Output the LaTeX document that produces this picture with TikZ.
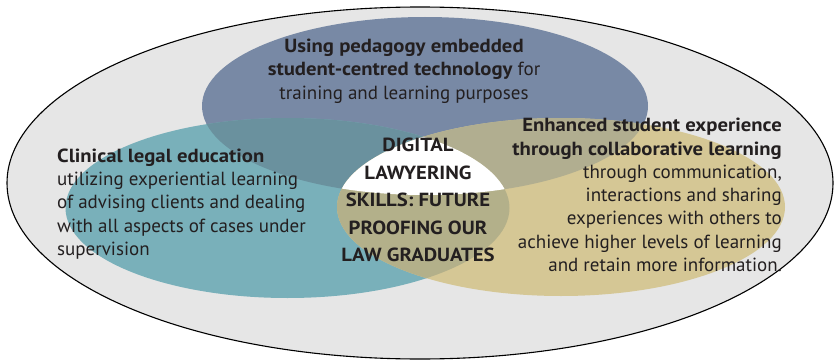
\documentclass[tikz,border=0pt]{standalone}
\usepackage{fontspec}
\setmainfont{PT Sans}[BoldFeatures={FakeStretch=1.09}]
\definecolor{outerfill}{HTML}{E6E6E6}
\definecolor{bluef}{HTML}{7889A5}
\definecolor{tealf}{HTML}{79B0BA}
\definecolor{tanf}{HTML}{D5C795}
\definecolor{blueteal}{HTML}{6A919E}
\definecolor{bluetan}{HTML}{B1AE90}
\definecolor{tealtan}{HTML}{B3B08A}
\definecolor{txt}{HTML}{231F20}
\tikzset{
  bodytext/.style={text=txt, inner sep=0pt, font=\fontsize{19}{23.3}\selectfont},
  coretext/.style={text=txt, inner sep=0pt, align=center, font=\fontsize{19}{27.4}\selectfont\bfseries},
}
\begin{document}
\begin{tikzpicture}[x=1pt,y=-1pt]
\useasboundingbox (0,0) rectangle (835,361);
% outer ellipse
\fill[outerfill] (420,183) ellipse [x radius=413, y radius=176];
\draw[black, line width=1.1pt] (420,183) ellipse [x radius=413, y radius=176];
% circles
\def\blueE{(425,106) ellipse [x radius=223, y radius=89]}
\def\tealE{(287.5,208) ellipse [x radius=222, y radius=90]}
\def\tanE{(561,207) ellipse [x radius=224, y radius=89]}
\fill[bluef] \blueE;
\fill[tealf] \tealE;
\fill[tanf] \tanE;
\begin{scope}
  \clip \blueE;
  \fill[blueteal] \tealE;
  \fill[bluetan] \tanE;
\end{scope}
\begin{scope}
  \clip \tealE;
  \fill[tealtan] \tanE;
  \clip \tanE;
  \fill[white] \blueE;
\end{scope}
% texts
\node[bodytext, align=center] (top) at (404,71)
  {\textbf{Using pedagogy embedded}\\
   \textbf{student-centred technology} for\\
   training and learning purposes};
\node[bodytext, align=left, anchor=west] (left) at (57,204)
  {\textbf{Clinical legal education}\\
   utilizing experiential learning\\
   of advising clients and dealing\\
   with all aspects of cases under\\
   supervision};
\node[bodytext, align=right, anchor=east] (right) at (782,195)
  {\textbf{Enhanced student experience}\\
   \textbf{through collaborative learning}\\
   through communication,\\
   interactions and sharing\\
   experiences with others to\\
   achieve higher levels of learning\\
   and retain more information.};
\node[coretext] (core) at (418,200)
  {DIGITAL\\ LAWYERING\\ SKILLS: FUTURE\\ PROOFING OUR\\ LAW GRADUATES};
\end{tikzpicture}
\end{document}
